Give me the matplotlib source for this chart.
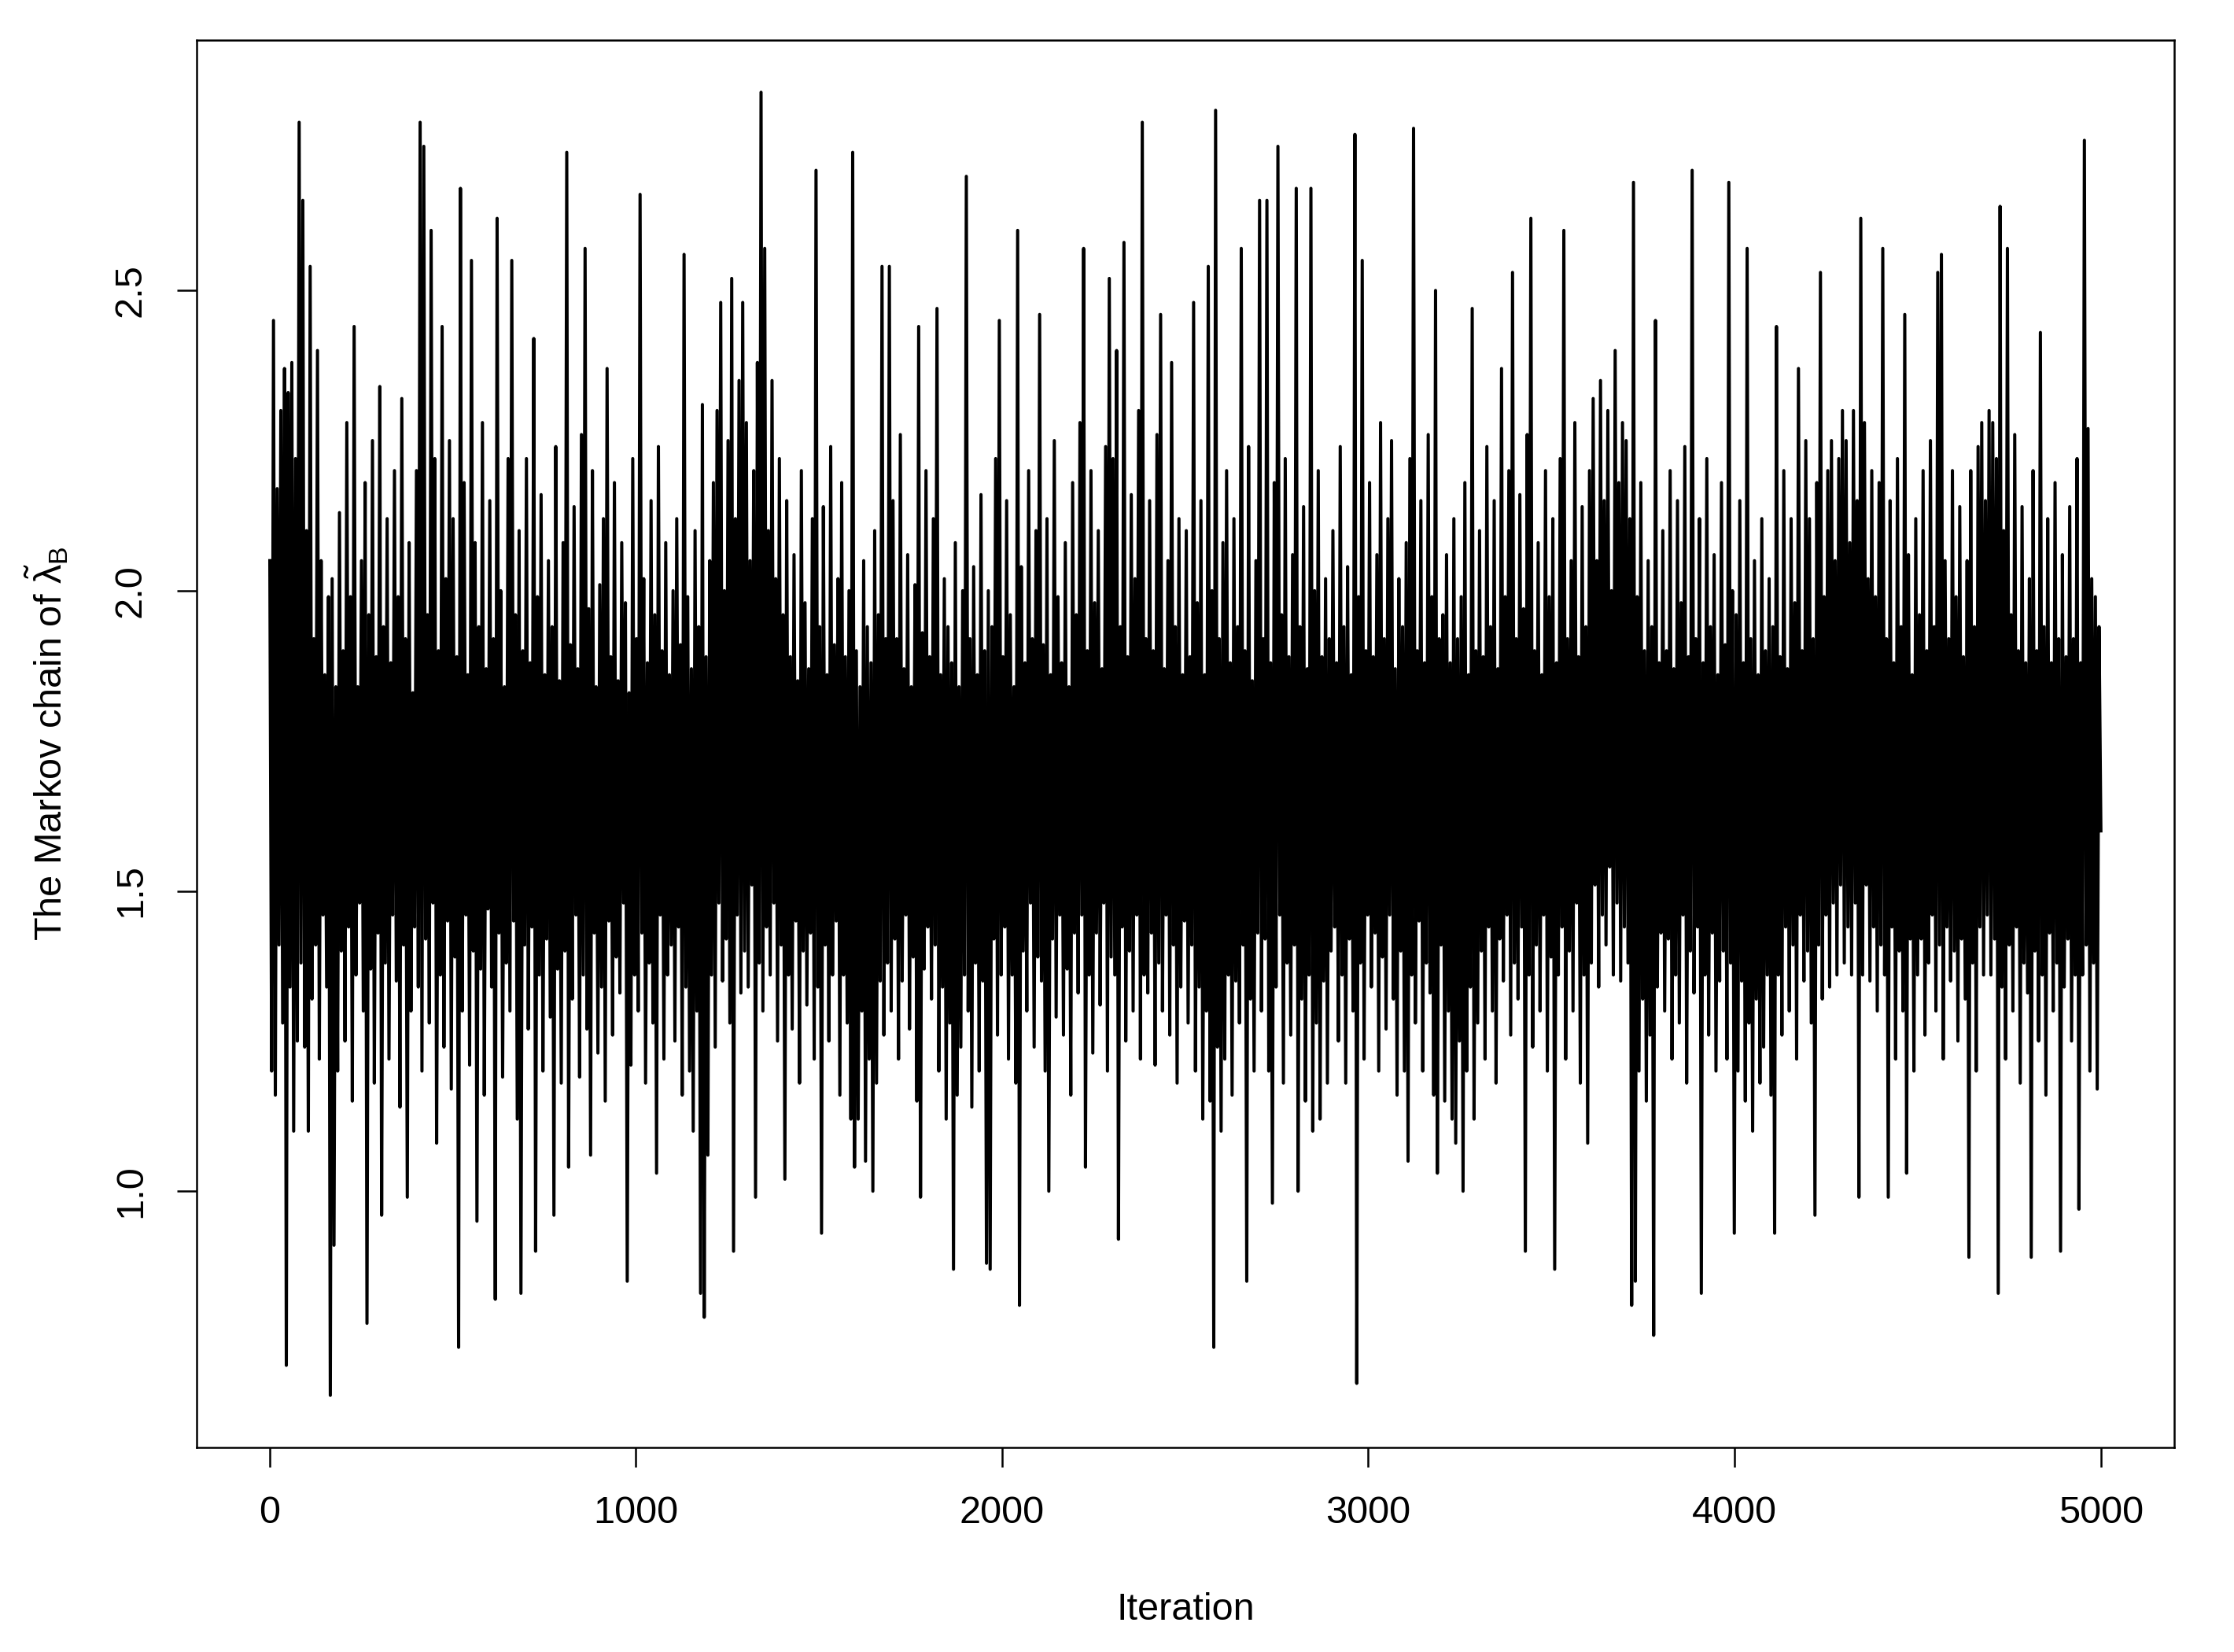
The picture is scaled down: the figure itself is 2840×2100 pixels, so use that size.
import numpy as np
import matplotlib
matplotlib.use("Agg")
from matplotlib import pyplot as plt

# chain values, ~5 iterations per value (alternating upper / lower excursions)
chain_values = [
    2.05,1.20,2.45,1.16,2.17,1.41,2.30,1.28,2.37,0.71,2.33,1.34,2.38,1.10,2.22,1.25,2.78,1.38,2.65,1.24,
    2.10,1.10,2.54,1.32,1.92,1.41,2.40,1.22,2.05,1.46,1.86,1.34,1.99,0.66,2.02,0.91,1.84,1.20,2.13,1.40,
    1.90,1.25,2.28,1.44,1.99,1.15,2.44,1.36,1.84,1.48,2.05,1.30,2.18,0.78,1.96,1.37,2.25,1.18,1.89,1.43,
    2.34,0.96,1.94,1.38,2.12,1.22,1.88,1.46,2.20,1.35,1.99,1.14,2.32,1.41,1.92,0.99,2.08,1.30,1.83,1.44,
    2.20,1.34,2.78,1.20,2.74,1.42,1.96,1.28,2.60,1.48,2.22,1.08,1.90,1.36,2.44,1.24,2.02,1.45,2.25,1.17,
    2.12,1.39,1.89,0.74,2.67,1.30,2.18,1.46,1.86,1.21,2.55,1.40,2.08,0.95,1.94,1.37,2.28,1.16,1.87,1.47,
    2.15,1.34,1.92,0.82,2.62,1.43,2.00,1.19,1.84,1.38,2.22,1.30,2.55,1.45,1.96,1.12,2.10,0.83,1.90,1.41,
    2.22,1.27,1.88,1.44,2.42,0.90,1.99,1.36,2.16,1.20,1.86,1.42,2.05,1.29,1.94,0.96,2.24,1.37,1.85,1.18,
    2.08,1.40,2.73,1.04,1.91,1.32,2.14,1.46,1.87,1.19,2.26,1.36,2.57,1.27,1.97,1.06,2.20,1.43,1.84,1.23,
    2.01,1.34,2.12,1.15,2.37,1.45,1.89,1.26,2.18,1.39,1.85,1.33,2.08,1.48,1.98,0.85,1.83,1.21,2.22,1.36,
    1.92,1.30,2.66,1.43,2.02,1.18,1.88,1.38,2.15,1.28,1.96,1.03,2.24,1.46,1.90,1.22,2.08,1.36,1.86,1.41,
    2.00,1.25,2.12,1.44,1.91,1.16,2.56,1.34,1.99,1.20,1.87,1.10,2.10,1.30,1.94,0.83,2.31,0.79,1.89,1.06,
    2.05,1.36,2.18,1.24,2.30,1.48,2.48,1.35,2.00,1.42,2.25,1.28,2.52,0.90,2.12,1.46,2.35,1.33,2.48,1.40,
    2.28,1.34,2.05,1.51,2.20,0.99,2.38,1.38,2.83,1.30,2.57,1.44,2.10,1.36,2.35,1.48,2.02,1.25,2.22,1.41,
    1.96,1.02,2.15,1.36,1.89,1.27,2.06,1.45,1.85,1.18,2.20,1.40,1.98,1.31,1.87,1.43,2.12,1.22,2.70,1.34,
    1.94,0.93,2.14,1.41,1.86,1.25,2.24,1.36,1.91,1.45,2.02,1.16,2.18,1.36,1.89,1.28,2.00,1.12,2.73,1.04,
    1.90,1.12,1.84,1.30,2.05,1.05,1.94,1.22,1.88,1.00,2.10,1.18,1.96,1.35,2.54,1.26,1.92,1.38,2.54,1.30,
    2.15,1.42,1.92,1.22,2.26,1.35,1.87,1.46,2.06,1.27,1.84,1.39,2.01,1.15,2.44,0.99,1.93,1.37,2.20,1.44,
    1.89,1.32,2.12,1.41,2.47,1.20,1.86,1.34,2.02,1.12,1.94,1.28,1.88,0.87,2.08,1.16,1.84,1.24,2.00,1.36,
    2.69,1.30,1.92,1.14,2.04,1.38,1.86,1.20,2.16,1.35,1.90,0.88,2.00,0.87,1.94,1.42,2.22,1.26,2.45,1.36,
    1.89,1.44,2.15,1.22,1.96,1.36,1.84,1.18,2.60,0.81,2.04,1.40,1.88,1.30,2.20,1.48,1.92,1.24,2.10,1.39,
    2.46,1.35,1.91,1.20,2.12,1.00,1.86,1.42,2.25,1.29,1.99,1.46,1.88,1.26,2.08,1.37,1.84,1.16,2.18,1.43,
    1.96,1.33,2.28,1.46,2.57,1.04,1.90,1.36,2.20,1.23,1.98,1.43,2.10,1.31,1.87,1.48,2.24,1.20,2.52,1.39,
    2.22,1.36,2.40,0.92,1.94,1.44,2.58,1.25,1.89,1.40,2.16,1.30,2.02,1.46,2.30,1.22,2.78,1.36,1.92,1.33,
    2.15,1.43,1.90,1.21,2.26,1.38,2.46,1.30,1.87,1.46,2.05,1.26,2.38,1.41,1.94,1.18,2.12,1.34,1.86,1.45,
    2.10,1.28,1.89,1.41,2.48,1.20,1.98,1.34,2.15,1.12,1.86,1.30,2.54,1.15,2.00,0.74,2.80,1.24,1.92,1.10,
    2.08,1.22,2.20,1.36,1.88,1.16,2.12,1.35,1.94,1.28,2.57,1.41,1.90,0.85,2.24,1.32,1.85,1.20,2.05,1.43,
    2.65,1.30,1.92,1.42,2.65,1.20,1.88,0.98,2.18,1.34,2.74,1.46,1.96,1.18,2.22,1.38,1.89,1.26,2.06,1.41,
    2.67,1.00,1.94,1.32,2.14,1.15,1.87,1.36,2.67,1.10,2.00,1.28,2.20,1.12,1.89,1.35,2.02,1.18,1.92,1.40,
    2.10,1.44,1.88,1.25,2.24,1.36,1.94,1.18,2.04,1.42,1.86,1.30,2.76,0.68,1.99,1.38,2.55,1.22,1.90,1.46,
    2.18,1.34,1.89,1.43,2.06,1.20,2.28,1.39,1.92,1.27,2.12,1.46,2.25,1.32,1.87,1.16,2.02,1.40,1.94,1.20,
    2.08,1.05,2.22,1.36,2.77,1.28,1.90,1.45,2.15,1.20,1.88,1.38,2.26,1.33,1.99,1.16,2.50,1.03,1.92,1.41,
    1.96,1.15,2.06,1.30,1.88,1.12,2.12,1.08,1.92,1.25,1.99,1.00,2.18,1.20,1.86,1.34,2.47,1.12,1.90,1.28,
    2.10,1.40,1.89,1.22,2.24,1.44,1.94,1.30,2.15,1.18,1.87,1.42,2.37,1.35,1.99,1.46,2.20,1.26,2.53,1.38,
    1.92,1.32,2.16,1.44,1.97,0.90,2.26,1.36,2.62,1.24,1.90,1.41,2.08,1.30,1.86,1.46,2.20,1.20,1.99,1.39,
    2.12,0.87,1.88,1.36,2.22,1.44,2.60,1.22,1.92,1.40,2.05,1.30,2.28,1.48,1.89,1.18,2.14,1.36,1.94,1.08,
    2.20,1.38,2.32,1.51,2.05,1.34,2.35,1.46,2.15,1.41,2.30,1.54,2.00,1.36,2.40,1.48,2.18,1.35,2.28,1.44,
    2.25,1.38,2.12,0.81,2.68,0.85,1.99,1.20,2.18,1.32,1.90,1.15,2.05,1.26,1.94,0.76,2.45,1.34,1.88,1.43,
    2.10,1.30,1.90,1.42,2.20,1.22,1.87,1.36,2.15,1.28,1.98,1.46,2.24,1.18,1.89,1.40,2.70,1.33,1.92,1.44,
    2.12,0.83,1.88,1.36,2.22,1.26,1.94,1.43,2.06,1.20,1.86,1.35,2.18,1.40,1.91,1.22,2.68,1.38,2.00,0.93,
    1.96,1.20,2.15,1.35,1.88,1.15,2.57,1.28,1.92,1.10,2.05,1.32,1.86,1.18,2.12,1.24,1.90,1.36,2.02,1.16,
    1.94,0.93,2.44,1.36,1.89,1.26,2.20,1.44,1.87,1.30,2.12,1.41,1.98,1.22,2.37,1.46,1.90,1.35,2.25,1.40,
    2.12,1.28,1.92,0.96,2.18,1.41,2.53,1.32,1.99,1.46,2.20,1.34,2.25,1.48,2.05,1.36,2.22,1.51,2.30,1.38,
    2.25,1.44,2.08,1.36,2.30,1.48,2.15,0.99,2.62,1.36,2.28,1.51,2.02,1.35,2.20,1.44,1.99,1.30,2.18,1.41,
    2.57,1.36,1.92,0.99,2.15,1.44,1.88,1.22,2.22,1.40,1.94,1.30,2.46,1.03,2.06,1.42,1.86,1.20,2.12,1.36,
    1.96,1.42,2.20,1.26,1.90,1.38,2.25,1.46,1.94,1.30,2.53,1.41,2.56,1.22,2.05,1.44,1.92,1.35,2.20,1.40,
    1.99,1.25,2.14,1.42,1.89,1.32,2.05,0.89,2.20,1.38,1.94,1.20,2.24,1.44,2.28,1.36,2.15,1.46,2.30,1.36,
    2.28,1.42,2.22,0.83,2.64,1.34,2.10,1.22,2.57,1.41,1.96,1.30,2.26,1.44,1.90,1.18,2.14,1.38,1.88,1.33,
    2.02,0.89,2.20,1.40,1.90,1.25,2.43,1.36,1.94,1.16,2.12,1.43,1.88,1.30,2.18,1.38,1.92,0.90,2.06,1.34,
    1.89,1.42,2.14,1.25,1.92,1.36,2.22,0.97,1.88,1.36,2.75,1.41,2.27,1.20,2.02,1.38,1.99,1.17,1.94,1.60,
]
n_iter = 5000

x_ticks = [0, 1000, 2000, 3000, 4000, 5000]
y_ticks = [1.0, 1.5, 2.0, 2.5]

plt.rcParams['font.family'] = ['Liberation Sans', 'DejaVu Sans']
plt.rcParams['mathtext.default'] = 'regular'

fig = plt.figure(figsize=(14.2, 10.5), dpi=200)
ax = fig.add_axes([0.088, 0.1238, 0.8852, 0.8519])

iters = np.linspace(1, n_iter, len(chain_values))
ax.plot(iters, chain_values, color='black', lw=1.45)

# R style axis ranges (4% padding)
lo, hi = min(chain_values), max(chain_values)
pad = 0.04 * (hi - lo)
ax.set_ylim(lo - pad, hi + pad)
ax.set_xlim(1 - 0.04 * (n_iter - 1), n_iter + 0.04 * (n_iter - 1))

ax.set_xticks(x_ticks)
ax.set_yticks(y_ticks)
ax.set_xticklabels([str(t) for t in x_ticks])
ax.set_yticklabels([f"{t:.1f}" for t in y_ticks], rotation=90, va='center')
ax.tick_params(length=9, width=0.9, labelsize=17.5, pad=13, color='black')
for s in ax.spines.values():
    s.set_linewidth(0.9)

ax.set_xlabel("Iteration", fontsize=17.5)
ax.set_ylabel(r"The Markov chain of $\tilde{\lambda}_B$", fontsize=17.5)
ax.xaxis.set_label_coords(0.5, -0.103)
ax.yaxis.set_label_coords(-0.064, 0.5)

fig.savefig("out.png", dpi=200)
